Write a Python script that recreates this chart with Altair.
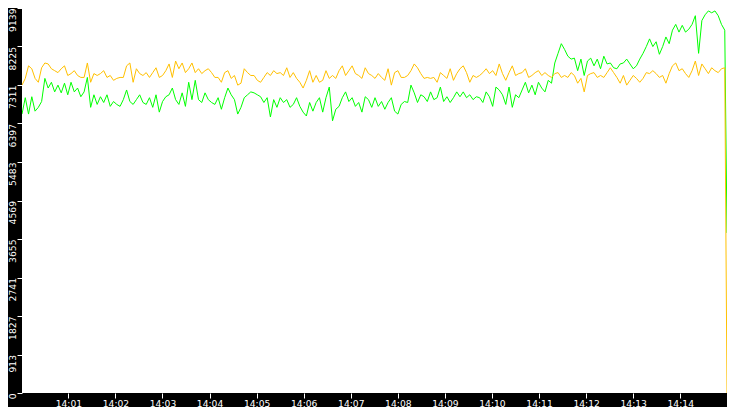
import altair as alt
import pandas as pd

# ---- data ----
Y_TICK_LABELS = ["0", "913", "1827", "2741", "3655", "4569", "5483", "6397", "7311", "8225", "9139"]
Y_MAX = 9139
X_MINUTES = [1, 2, 3, 4, 5, 6, 7, 8, 9, 10, 11, 12, 13, 14]

ORANGE = [
    7308, 7468, 7766, 7697, 7468, 7376, 7720, 7834, 7811, 7697, 7651, 7605, 7697, 7766, 7537, 7582, 7651, 7537,
    7491, 7491, 7834, 7376, 7582, 7537, 7582, 7651, 7491, 7537, 7422, 7468, 7491, 7491, 7766, 7834, 7376, 7697,
    7582, 7537, 7605, 7491, 7605, 7720, 7491, 7537, 7651, 7811, 7491, 7880, 7697, 7834, 7605, 7697, 7834, 7605,
    7697, 7582, 7651, 7697, 7605, 7491, 7491, 7376, 7605, 7651, 7468, 7537, 7308, 7354, 7697, 7605, 7537,
    7537, 7422, 7376, 7491, 7605, 7537, 7651, 7582, 7605, 7537, 7720, 7491, 7605, 7468, 7376, 7239, 7422, 7651,
    7376, 7537, 7376, 7422, 7651, 7468, 7537, 7468, 7651, 7766, 7537, 7651, 7766, 7582, 7537, 7468, 7720,
    7582, 7537, 7468, 7582, 7491, 7422, 7697, 7308, 7605, 7651, 7491, 7491, 7537, 7651, 7811, 7720, 7582, 7468,
    7491, 7468, 7491, 7376, 7605, 7537, 7468, 7697, 7422, 7582, 7697, 7766, 7605, 7376, 7537, 7491,
    7537, 7605, 7697, 7582, 7651, 7537, 7811, 7582, 7422, 7605, 7766, 7537, 7582, 7605, 7697, 7491, 7537, 7605,
    7651, 7537, 7605, 7537, 7491, 7582, 7605, 7491, 7537, 7491, 7605, 7537, 7354, 7468, 7148, 7537, 7582, 7605,
    7491, 7537,
    7491, 7605, 7720, 7605, 7491, 7354, 7537, 7308, 7422, 7537, 7468, 7376, 7468, 7605, 7582, 7651, 7582, 7491,
    7537, 7354, 7582, 7766, 7834, 7651, 7697, 7582, 7491, 7651, 7880, 7537, 7811, 7697, 7582, 7720, 7651, 7605,
    7697, 7720,
    0,
]

GREEN = [
    6621, 7010, 6621, 7033, 6690, 6781, 6919, 7468, 7239, 7376, 7148, 7308, 7125, 7354, 7079, 7376, 7148, 7239,
    7033, 7148, 7491, 6781, 7079, 6850, 7033, 6896, 7079, 6804, 6919, 6850, 6804, 6964, 7193, 6919, 6850, 6964,
    7079, 6896, 6850, 7010, 6781, 7079, 6667, 6919, 7033, 7079, 7239, 6964, 6850, 7125, 6804, 7376, 6964, 7422,
    6964, 6896, 7125, 6964, 6896, 6850, 7010, 6735, 7010, 7239, 7079, 6964, 6621, 6781, 7010, 7079, 7148,
    7125, 7079, 7033, 6896, 7010, 6552, 6964, 6781, 7010, 6896, 6964, 6781, 6850, 7010, 6804, 6667, 6575, 6896,
    6690, 6896, 7010, 6667, 7010, 7262, 6461, 6735, 6804, 7010, 7148, 6919, 7010, 6804, 6896, 6667, 7033,
    6964, 6781, 7010, 6804, 6919, 6735, 6896, 7010, 6690, 6621, 6850, 6919, 6896, 7308, 7125, 6896, 7079, 7033,
    6919, 7148, 6964, 7010, 7262, 6919, 7033, 6896, 7010, 7148, 7033, 7148, 7010, 7079, 6964, 7033,
    7010, 6896, 7148, 7033, 6804, 7262, 7193, 7079, 6850, 7262, 6781, 7079, 7010, 7193, 7376, 7125, 7308, 7079,
    7376, 7239, 7148, 7422, 7354, 7834, 8063, 8292, 8155, 7995, 7926, 7949, 7651, 7926, 7537, 7880, 7949, 7766,
    7926, 7697,
    7995, 7811, 7834, 7720, 7697, 7811, 7834, 7926, 7811, 7697, 7766, 7926, 8063, 8223, 8406, 8223, 8338, 8040,
    8223, 8452, 8292, 8612, 8750, 8567, 8727, 8567, 8635, 8750, 8956, 8063, 8841, 8979, 9070, 9025, 9070, 8956,
    8750, 8612,
    3800,
]

COLORS = {"green": "#00ff00", "orange": "#ffc000"}
BASE_DAY = "2024-01-01"

LEFT_STRIP = 14
BOTTOM_STRIP = 14
PLOT_W = 719 - LEFT_STRIP
PLOT_H = 399 - BOTTOM_STRIP


def sample_times(n):
    # samples every 25/6 s starting 14:00:00.9, last sample at 14:14:59.6
    base = pd.Timestamp(BASE_DAY + " 14:00:00")
    out = [base + pd.Timedelta(milliseconds=round(900 + i * 25000 / 6)) for i in range(n - 1)]
    out.append(base + pd.Timedelta(milliseconds=899600))
    return [t.strftime("%Y-%m-%dT%H:%M:%S.%f")[:-3] for t in out]


rows = []
for name, vals in (("green", GREEN), ("orange", ORANGE)):
    for i, (t, v) in enumerate(zip(sample_times(len(vals)), vals)):
        rows.append({"series": name, "time": t, "value": v, "idx": i})
df = pd.DataFrame(rows)


def dt(h, m, s=0, ms=0):
    return alt.DateTime(year=2024, month=1, date=1, hours=h, minutes=m, seconds=s, milliseconds=ms)


x_enc = alt.X(
    "time:T",
    scale=alt.Scale(domain=[dt(14, 0, 0, 900), dt(14, 14, 59, 600)]),
    axis=alt.Axis(
        values=[dt(14, m) for m in X_MINUTES],
        format="%H:%M",
        title=None,
        labelBaseline="top",
        labelPadding=1,
        labelAngle=0,
        zindex=2,
    ),
)
label_array = "[" + ",".join("'%s'" % s for s in Y_TICK_LABELS) + "]"
y_enc = alt.Y(
    "value:Q",
    scale=alt.Scale(domain=[0, Y_MAX], nice=False, zero=True),
    axis=alt.Axis(
        values=[i * Y_MAX / 10 for i in range(11)],
        labelExpr=label_array + "[round(datum.value / %f)]" % (Y_MAX / 10),
        title=None,
        labelAngle=270,
        labelAlign="right",
        labelBaseline="alphabetic",
        labelPadding=2,
        labelOffset=0,
        zindex=2,
    ),
)

# black frame strips behind the axes (left and bottom)
frame_src = pd.DataFrame({"k": [0]})
left_strip = (
    alt.Chart(frame_src)
    .mark_rect(color="black", clip=False)
    .encode(
        x=alt.value(-LEFT_STRIP),
        x2=alt.value(0),
        y=alt.value(0),
        y2=alt.value(PLOT_H + BOTTOM_STRIP),
    )
)
bottom_strip = (
    alt.Chart(frame_src)
    .mark_rect(color="black", clip=False)
    .encode(
        x=alt.value(-LEFT_STRIP),
        x2=alt.value(PLOT_W),
        y=alt.value(PLOT_H),
        y2=alt.value(PLOT_H + BOTTOM_STRIP),
    )
)


def series_layer(name):
    return (
        alt.Chart(df)
        .transform_filter(alt.datum.series == name)
        .mark_line(strokeWidth=1, color=COLORS[name], clip=True)
        .encode(x=x_enc, y=y_enc, order="idx:Q")
    )


chart = (
    alt.layer(left_strip, bottom_strip, series_layer("green"), series_layer("orange"))
    .properties(
        width=PLOT_W,
        height=PLOT_H,
        background="white",
        autosize=alt.AutoSizeParams(type="none"),
        padding={"left": LEFT_STRIP, "top": 0, "right": 0, "bottom": BOTTOM_STRIP},
    )
    .configure_view(fill="white", strokeWidth=0)
    .configure_axis(
        domain=False,
        grid=False,
        ticks=True,
        tickColor="white",
        tickSize=5,
        tickWidth=1,
        labelColor="white",
        labelFont="DejaVu Sans",
        labelFontSize=9.2,
    )
)

chart.save("out.html", embed_options={"renderer": "svg", "actions": False})
